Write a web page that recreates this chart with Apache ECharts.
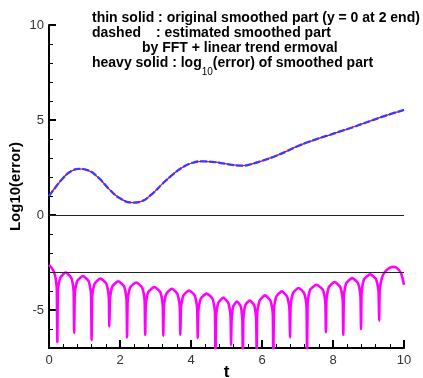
<!DOCTYPE html>
<html>
<head>
<meta charset="utf-8">
<script src="https://cdn.jsdelivr.net/npm/echarts@6/dist/echarts.min.js"></script>
<style>
  html, body { margin: 0; padding: 0; background: #fff; }
  #chart { width: 423px; height: 378px; }
</style>
</head>
<body>
<div id="chart"></div>
<script>
// original smoothed part, [t, value]
const originalSmoothed = [
  [0, 1.02], [0.2, 1.5], [0.4, 1.95], [0.6, 2.28], [0.85, 2.43], [1.1, 2.35],
  [1.4, 1.95], [1.7, 1.35], [2.0, 0.88], [2.35, 0.65], [2.6, 0.72], [2.9, 1.1],
  [3.2, 1.65], [3.5, 2.15], [3.8, 2.55], [4.05, 2.75], [4.3, 2.82], [4.6, 2.8],
  [4.9, 2.72], [5.2, 2.63], [5.45, 2.6], [5.7, 2.68], [6.0, 2.85], [6.35, 3.08],
  [6.7, 3.36], [7.0, 3.62], [7.3, 3.84], [7.6, 4.03], [7.9, 4.21], [8.2, 4.4],
  [8.5, 4.58], [8.8, 4.78], [9.1, 4.98], [9.4, 5.18], [9.7, 5.36], [10.0, 5.52]
];

// estimated smoothed part (FFT + linear trend removal), [t, value]
const estimatedSmoothed = [
  [0, 1.0], [0.2, 1.5], [0.4, 1.95], [0.6, 2.28], [0.85, 2.43], [1.1, 2.35],
  [1.4, 1.95], [1.7, 1.35], [2.0, 0.88], [2.35, 0.65], [2.6, 0.72], [2.9, 1.1],
  [3.2, 1.65], [3.5, 2.15], [3.8, 2.55], [4.05, 2.75], [4.3, 2.82], [4.6, 2.8],
  [4.9, 2.72], [5.2, 2.63], [5.45, 2.6], [5.7, 2.68], [6.0, 2.85], [6.35, 3.08],
  [6.7, 3.36], [7.0, 3.62], [7.3, 3.84], [7.6, 4.03], [7.9, 4.21], [8.2, 4.4],
  [8.5, 4.58], [8.8, 4.78], [9.1, 4.98], [9.4, 5.18], [9.7, 5.36], [10.0, 5.53]
];

// log10(error) of the smoothed part, [t, value]
const logError = [
  [0, -2.62], [0.06, -2.75], [0.12, -2.92], [0.17, -3.17], [0.2, -3.5], [0.22, -3.9], [0.235, -6.7],
  [0.25, -4.0], [0.275, -3.62], [0.325, -3.28], [0.47, -3.03], [0.62, -3.28], [0.67, -3.63], [0.695, -4.03], [0.71, -6.2],
  [0.725, -4.21], [0.75, -3.81], [0.8, -3.46], [0.955, -3.21], [1.11, -3.46], [1.16, -3.81], [1.185, -4.21], [1.2, -6.58],
  [1.215, -4.35], [1.24, -3.95], [1.29, -3.6], [1.45, -3.35], [1.61, -3.6], [1.66, -3.95], [1.685, -4.35], [1.7, -5.87],
  [1.715, -4.49], [1.74, -4.09], [1.79, -3.74], [1.95, -3.49], [2.11, -3.74], [2.16, -4.09], [2.185, -4.49], [2.2, -6.44],
  [2.215, -4.55], [2.24, -4.15], [2.29, -3.8], [2.455, -3.55], [2.62, -3.8], [2.67, -4.15], [2.695, -4.55], [2.71, -6.31],
  [2.725, -4.79], [2.75, -4.39], [2.8, -4.04], [2.965, -3.79], [3.13, -4.04], [3.18, -4.39], [3.205, -4.79], [3.22, -6.35],
  [3.235, -4.88], [3.26, -4.48], [3.31, -4.13], [3.46, -3.88], [3.61, -4.13], [3.66, -4.48], [3.685, -4.88], [3.7, -6.31],
  [3.715, -4.97], [3.74, -4.57], [3.79, -4.22], [3.945, -3.97], [4.1, -4.22], [4.15, -4.57], [4.175, -4.97], [4.19, -6.47],
  [4.205, -5.14], [4.23, -4.74], [4.28, -4.39], [4.44, -4.14], [4.6, -4.39], [4.65, -4.74], [4.675, -5.14], [4.69, -7.6],
  [4.705, -5.35], [4.73, -4.95], [4.77, -4.62], [4.91, -4.35], [5.05, -4.62], [5.09, -4.95], [5.115, -5.35], [5.13, -6.85],
  [5.143, -5.55], [5.16, -5.15], [5.19, -4.8], [5.295, -4.55], [5.4, -4.8], [5.43, -5.15], [5.447, -5.55], [5.46, -7.6],
  [5.474, -5.5], [5.495, -5.1], [5.53, -4.75], [5.655, -4.5], [5.78, -4.75], [5.815, -5.1], [5.836, -5.5], [5.85, -7.2],
  [5.865, -5.23], [5.89, -4.83], [5.94, -4.48], [6.085, -4.23], [6.23, -4.48], [6.28, -4.83], [6.305, -5.23], [6.32, -7.6],
  [6.335, -5.02], [6.36, -4.62], [6.41, -4.27], [6.555, -4.02], [6.7, -4.27], [6.75, -4.62], [6.775, -5.02], [6.79, -6.44],
  [6.805, -4.84], [6.83, -4.44], [6.88, -4.09], [7.03, -3.84], [7.18, -4.09], [7.23, -4.44], [7.255, -4.84], [7.27, -7.6],
  [7.285, -4.67], [7.31, -4.27], [7.36, -3.92], [7.535, -3.67], [7.71, -3.92], [7.76, -4.27], [7.785, -4.67], [7.8, -6.17],
  [7.815, -4.53], [7.84, -4.13], [7.89, -3.78], [8.045, -3.53], [8.2, -3.78], [8.25, -4.13], [8.275, -4.53], [8.29, -6.31],
  [8.305, -4.32], [8.33, -3.92], [8.38, -3.57], [8.54, -3.32], [8.7, -3.57], [8.75, -3.92], [8.775, -4.32], [8.79, -6.0],
  [8.805, -4.12], [8.83, -3.72], [8.88, -3.37], [9.045, -3.12], [9.21, -3.37], [9.26, -3.72], [9.285, -4.12], [9.3, -5.56],
  [9.315, -4.0], [9.34, -3.6], [9.4, -3.2], [9.5, -2.92], [9.62, -2.76], [9.72, -2.73], [9.82, -2.82], [9.92, -3.08], [10.0, -3.67]
];

// reference levels drawn as thin horizontal lines
const referenceLevels = [0, -3];

// axis ticks
const yMajorTicks = [-5, 0, 5, 10];
const yRange = [-7, 10];
const xRange = [0, 10];

const labelFont = { fontFamily: 'Liberation Sans, Arial, sans-serif', fontSize: 13, color: '#333' };
const boldFamily = 'Liberation Sans, Arial, sans-serif';

const chart = echarts.init(document.getElementById('chart'), null, { renderer: 'canvas' });

const legendText = [
  { type: 'text', left: 92, top: 11, style: { text: 'thin solid : original smoothed part (y = 0 at 2 end)', font: 'bold 14px ' + boldFamily, fill: '#000' } },
  { type: 'text', left: 92, top: 26, style: { text: 'dashed', font: 'bold 14px ' + boldFamily, fill: '#000' } },
  { type: 'text', left: 156, top: 26, style: { text: ': estimated smoothed part', font: 'bold 14px ' + boldFamily, fill: '#000' } },
  { type: 'text', left: 142, top: 41, style: { text: 'by FFT + linear trend ermoval', font: 'bold 14px ' + boldFamily, fill: '#000' } },
  {
    type: 'text', left: 92, top: 49,
    style: {
      text: 'heavy solid : log{sub|10}(error) of smoothed part',
      font: 'bold 14px ' + boldFamily, fill: '#000', lineHeight: 28,
      rich: {
        sub: { fontSize: 10, fontWeight: 'normal', fontFamily: boldFamily, fill: '#000', lineHeight: 4, verticalAlign: 'bottom' }
      }
    }
  }
];

const option = {
  animation: false,
  backgroundColor: '#fff',
  grid: { left: 49, right: 19, top: 25, bottom: 30, containLabel: false, outerBoundsMode: 'none' },
  xAxis: {
    type: 'value', min: xRange[0], max: xRange[1], interval: 2,
    name: 't', nameLocation: 'middle', nameGap: 16, nameMoveOverlap: false,
    nameTextStyle: { fontFamily: boldFamily, fontWeight: 'bold', fontSize: 17, color: '#000', verticalAlign: 'top' },
    axisLine: { show: true, onZero: false, lineStyle: { color: '#000', width: 2 } },
    axisTick: { show: true, inside: true, length: 8, lineStyle: { color: '#000', width: 2 } },
    minorTick: { show: true, splitNumber: 5, length: 4, lineStyle: { color: '#000', width: 1 } },
    axisLabel: Object.assign({ margin: 6 }, labelFont),
    splitLine: { show: false }
  },
  yAxis: [
    {
      type: 'value', min: yRange[0], max: yRange[1], interval: 1,
      name: 'Log10(error)', nameLocation: 'middle', nameGap: 26, nameRotate: 90, nameMoveOverlap: false,
      nameTextStyle: { fontFamily: boldFamily, fontWeight: 'bold', fontSize: 15, color: '#000' },
      axisLine: { show: true, onZero: false, lineStyle: { color: '#000', width: 2 } },
      axisTick: { show: true, inside: true, length: 4, lineStyle: { color: '#000', width: 1 } },
      axisLabel: { show: false },
      splitLine: { show: false }
    },
    {
      type: 'value', min: yRange[0], max: yRange[1], interval: 1, position: 'left',
      axisLine: { show: false },
      axisTick: { show: true, inside: true, length: 7, customValues: yMajorTicks, lineStyle: { color: '#000', width: 2 } },
      axisLabel: Object.assign({ margin: 5, customValues: yMajorTicks }, labelFont),
      splitLine: { show: false }
    }
  ],
  graphic: legendText,
  series: [
    {
      name: 'reference levels', type: 'line', data: [], silent: true,
      markLine: {
        silent: true, symbol: 'none', animation: false,
        label: { show: false },
        lineStyle: { color: '#222', width: 1.2, type: 'solid' },
        data: referenceLevels.map(v => ({ yAxis: v }))
      }
    },
    {
      name: 'log10(error)', type: 'line', data: logError, showSymbol: false, smooth: 0.2,
      lineStyle: { color: '#ff00ff', width: 2.6 }, clip: true
    },
    {
      name: 'original', type: 'line', data: originalSmoothed, showSymbol: false, smooth: true,
      lineStyle: { color: '#ff0000', width: 1.3 }
    },
    {
      name: 'estimated', type: 'line', data: estimatedSmoothed, showSymbol: false, smooth: true,
      lineStyle: { color: '#3b3bff', width: 2.3, type: [7, 2] }
    }
  ]
};

chart.setOption(option);
</script>
</body>
</html>
